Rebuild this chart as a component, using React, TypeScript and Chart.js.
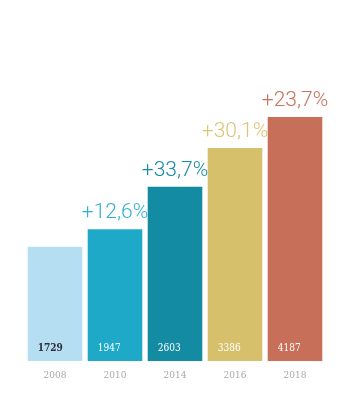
import React, { useEffect, useRef } from "react";
import { Chart, registerables } from "chart.js";

Chart.register(...registerables);

const years = ["2008", "2010", "2014", "2016", "2018"];
const values = [1729, 1947, 2603, 3386, 4187];
const growthLabels = ["", "+12,6%", "+33,7%", "+30,1%", "+23,7%"];
const barColors = ["#b6def3", "#1fa9c8", "#138ba3", "#d6c06b", "#c76f59"];
const growthColors = ["#b6def3", "#33afd0", "#1a8ba4", "#dcc574", "#c9725c"];
const valueTextColors = ["#2b2d3a", "#ffffff", "#ffffff", "#ffffff", "#ffffff"];

const labelPlugin = {
  id: "barLabels",
  afterDatasetsDraw(chart: any) {
    const ctx = chart.ctx;
    const meta = chart.getDatasetMeta(0);
    meta.data.forEach((bar: any, i: number) => {
      const left = bar.x - bar.width / 2;
      // value inside bar (slab serif, narrowed)
      ctx.save();
      ctx.translate(left + 10, bar.base - 10);
      ctx.scale(0.82, 1);
      ctx.font = (i === 0 ? "bold " : "") + "11px 'DejaVu Serif'";
      ctx.fillStyle = valueTextColors[i];
      ctx.textAlign = "left";
      ctx.textBaseline = "alphabetic";
      ctx.fillText(String(values[i]), 0, 0);
      ctx.restore();
      // growth label above bar
      if (growthLabels[i]) {
        ctx.save();
        ctx.font = "300 21px Roboto";
        ctx.fillStyle = growthColors[i];
        ctx.textAlign = "center";
        ctx.textBaseline = "alphabetic";
        ctx.fillText(growthLabels[i], bar.x, bar.y - 11);
        ctx.restore();
      }
    });
  },
};

export default function App() {
  const ref = useRef<HTMLCanvasElement>(null);
  useEffect(() => {
    if (!ref.current) return;
    const chart = new Chart(ref.current, {
      type: "bar",
      data: {
        labels: years,
        datasets: [
          {
            data: values,
            backgroundColor: barColors,
            borderWidth: 0,
            categoryPercentage: 1,
            barPercentage: 0.91,
          },
        ],
      },
      options: {
        animation: false,
        responsive: false,
        devicePixelRatio: 1,
        layout: { padding: { top: 60, left: 25, right: 27, bottom: 0 } },
        plugins: { legend: { display: false }, tooltip: { enabled: false } },
        scales: {
          x: {
            grid: { display: false, drawTicks: false },
            border: { display: false },
            ticks: {
              color: "#a9a9a9",
              font: { family: "'DejaVu Serif'", size: 9 },
              padding: 9,
            },
            afterFit: (scale: any) => {
              scale.height = 54;
            },
          },
          y: {
            type: "logarithmic",
            display: false,
            min: 793,
            max: 6171,
            bounds: "data",
          },
        },
      },
      plugins: [labelPlugin],
    });
    return () => chart.destroy();
  }, []);
  return (
    <div style={{ position: "fixed", left: 0, top: 0, width: 352, height: 415, background: "#fff" }}>
      <canvas ref={ref} width={352} height={415} style={{ width: 352, height: 415 }} />
    </div>
  );
}
